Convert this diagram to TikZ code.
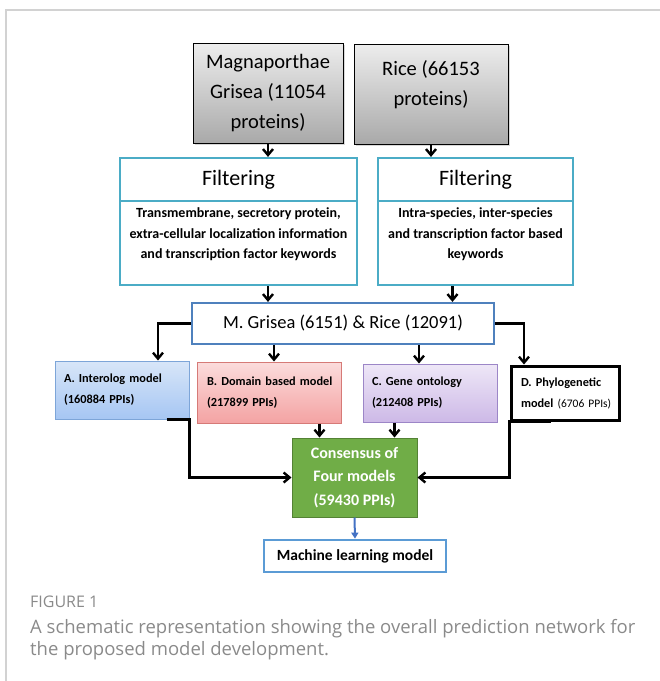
\documentclass[tikz,border=0pt]{standalone}
\usepackage{fontspec}
\setmainfont{Carlito}
\newfontfamily\capfont{Open Sans}
\usepackage{xcolor}
\usepackage{tikz}
\usetikzlibrary{arrows.meta,shadows,calc}
\definecolor{figgrayA}{HTML}{EDEDED}
\definecolor{figgrayB}{HTML}{A9A9A9}
\definecolor{figcyan}{HTML}{4BACC6}
\definecolor{figblue}{HTML}{4F81BD}
\definecolor{figmlblue}{HTML}{5B9BD5}
\definecolor{figarrblue}{HTML}{4472C4}
\definecolor{figAtop}{HTML}{D8E6F8}
\definecolor{figAbot}{HTML}{A6C6F3}
\definecolor{figAline}{HTML}{7DA5D8}
\definecolor{figBtop}{HTML}{FBDCDC}
\definecolor{figBbot}{HTML}{F4A3A3}
\definecolor{figBline}{HTML}{D67A77}
\definecolor{figCtop}{HTML}{EEE7F7}
\definecolor{figCbot}{HTML}{CDB9E7}
\definecolor{figCline}{HTML}{9C86C7}
\definecolor{figgreen}{HTML}{70AD47}
\definecolor{figgreenline}{HTML}{548235}
\definecolor{figcap}{HTML}{8A8A8A}
\definecolor{figframe}{HTML}{D2D2D2}
\newcommand{\blines}[1]{\begin{tabular}[b]{@{}c@{}}#1\end{tabular}}

\begin{document}
\begin{tikzpicture}[x=1pt, y=-1pt,
  src/.style={draw=black, line width=1pt, top color=figgrayA, bottom color=figgrayB,
              minimum height=100pt, inner sep=0pt, align=center,
              font=\fontsize{20.5}{30}\selectfont,
              drop shadow={shadow xshift=1.5pt, shadow yshift=-1.5pt, fill=black!30}},
  flttl/.style={draw=figcyan, line width=2.2pt, fill=white, minimum height=43pt,
                inner sep=0pt, font=\fontsize{22}{26}\selectfont},
  fltbody/.style={draw=figcyan, line width=2.2pt, fill=white, minimum height=84pt,
                  inner sep=0pt, text depth=24pt, font=\fontsize{14}{20.5}\selectfont\bfseries},
  merged/.style={draw=figblue, line width=2.2pt, fill=white, minimum width=302pt,
                 minimum height=41pt, font=\fontsize{18.5}{22}\selectfont},
  model/.style={draw, line width=1pt, minimum height=58pt, inner ysep=0pt, align=left,
                font=\fontsize{12.3}{21}\selectfont\bfseries},
  soft/.style={drop shadow={shadow xshift=1pt, shadow yshift=-1pt, fill=black!20}},
  consbox/.style={draw=figgreenline, fill=figgreen, line width=1pt, text=white,
                  minimum width=125pt, minimum height=79pt, align=center,
                  font=\fontsize{16}{23.5}\selectfont\bfseries},
  mlbox/.style={draw=figmlblue, line width=2.8pt, fill=white, minimum width=182pt,
                minimum height=32pt, font=\fontsize{15.5}{18}\selectfont\bfseries},
  arr/.style={-{Straight Barb[length=6pt,width=10pt]}, line width=2.4pt, black}]
\useasboundingbox (0,0) rectangle (660,681);
\draw[figframe, line width=1.5pt] (6,681) -- (6,10) -- (660,10);

\node[src, minimum width=150pt] (mag) at (268,93) {Magnaporthae\\Grisea (11054\\proteins)};
\node[src, minimum width=154pt, text depth=29pt] (rice) at (431,94) {\blines{Rice (66153\\proteins)}};

\node[flttl, minimum width=237pt] (fltA) at (238.5,179.5) {Filtering};
\node[fltbody, minimum width=237pt] (fltAtxt) at (238.5,243)
  {\blines{Transmembrane, secretory protein,\\extra-cellular localization information\\and transcription factor keywords}};
\node[flttl, minimum width=195pt] (fltB) at (475.5,179.5) {Filtering};
\node[fltbody, minimum width=195pt] (fltBtxt) at (475.5,243)
  {\blines{Intra-species, inter-species\\and transcription factor based\\keywords}};

\node[merged] (grisea) at (343,323.5) {M. Grisea (6151) \& Rice (12091)};

\node[model, soft, draw=figAline, top color=figAtop, bottom color=figAbot,
      text width=116pt, inner xsep=9pt] (intA) at (122,390) {A. Interolog model\\(160884 PPIs)};
\node[model, soft, draw=figBline, top color=figBtop, bottom color=figBbot,
      text width=124pt, inner xsep=10pt, minimum height=61pt] (domB) at (269,392.5) {\mbox{B. Domain based model}\\(217899 PPIs)};
\node[model, soft, draw=figCline, top color=figCtop, bottom color=figCbot,
      text width=116pt, inner xsep=9pt] (goC) at (430,393) {C. Gene ontology\\(212408 PPIs)};
\node[model, draw=black, line width=3pt, fill=white, text width=94pt, inner xsep=7pt,
      minimum height=54pt] (phyD) at (565,393) {\hspace*{3pt}D. Phylogenetic\\\hspace*{3pt}model {\mdseries\fontsize{11.5}{21}\selectfont(6706 PPIs)}};

\node[consbox] (cons) at (354.5,477.5) {Consensus of\\Four models\\(59430 PPIs)};
\node[mlbox] (ml) at (355,556) {Machine learning model};

\coordinate (fbOut) at ([xshift=-23pt]fltBtxt.south);
\coordinate (bIn) at ([xshift=5pt]domB.north);
\coordinate (cIn) at ([xshift=-11pt]goC.north);
\coordinate (bOut) at ([xshift=-35pt]cons.north);
\coordinate (cOut) at ([xshift=40pt]cons.north);

\draw[arr] (mag.south) -- (mag.south |- fltA.north);
\draw[arr] (rice.south) -- (rice.south |- fltB.north);
\draw[arr] (fltAtxt.south -| mag.south) -- (grisea.north -| mag.south);
\draw[arr] (fbOut) -- (fbOut |- grisea.north);
\draw[arr] (grisea.west) -| ([xshift=36pt]intA.north);
\draw[arr] (bIn |- grisea.south) -- (bIn);
\draw[arr] (cIn |- grisea.south) -- (cIn);
\draw[arr] (grisea.east) -| ([xshift=-41pt]phyD.north);
\draw[arr] ([xshift=-23pt]intA.south east) -- (intA.south east) |- (cons.west);
\draw[arr] ([xshift=41pt]phyD.south west) -- (phyD.south west) |- (cons.east);
\draw[arr] (bOut |- domB.south) -- (bOut);
\draw[arr] (cOut |- goC.south) -- (cOut);
\draw[-{Triangle[length=6pt,width=7pt]}, line width=2pt, figarrblue] (cons.south) -- (ml.north);

\node[anchor=base west, inner sep=0pt, text=figcap, font=\capfont\fontsize{16}{19}\selectfont] (fig) at (30,607) {FIGURE 1};
\node[anchor=north west, inner sep=0pt, align=left, text=figcap, font=\capfont\fontsize{18.5}{22.5}\selectfont] (cap) at (30,619)
  {A schematic representation showing the overall prediction network for\\the proposed model development.};
\end{tikzpicture}
\end{document}
